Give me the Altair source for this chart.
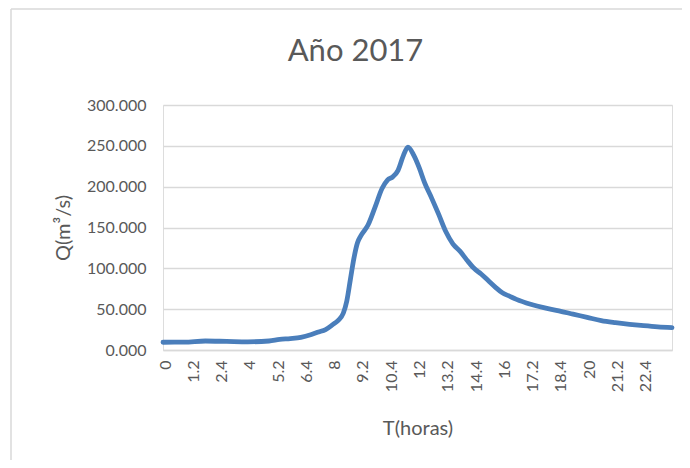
import altair as alt
import pandas as pd

# time in minutes since 0:00, flow in m3/s
t_min = [0, 60, 120, 180, 240, 300, 330, 360, 390, 420, 440, 460, 480, 495, 510, 520,
         530, 540, 550, 560, 580, 600, 620, 635, 650, 665, 680, 693, 710, 725, 740,
         760, 780, 800, 820, 840, 860, 880, 900, 920, 940, 960, 980, 1000, 1040, 1080,
         1120, 1160, 1200, 1240, 1280, 1320, 1360, 1400, 1440]
q = [9.5, 9.6, 11.0, 10.5, 10.0, 11.0, 13.0, 14.0, 15.5, 19.0, 22.0, 25.0, 31.0, 36.0, 45.0, 60.0,
     86.0, 112.0, 131.0, 140.0, 153.0, 175.0, 198.0, 208.0, 212.0, 220.0, 238.0, 248.5, 238.0, 223.0, 205.0,
     186.0, 166.0, 145.0, 130.0, 121.0, 110.0, 100.0, 93.0, 85.0, 77.0, 70.0, 66.0, 62.0, 56.0, 51.5,
     48.0, 44.0, 40.0, 36.0, 33.5, 31.5, 29.8, 28.4, 27.5]

x_tick_values = [0, 80, 160, 240, 320, 400, 480, 560, 640, 720, 800, 880, 960, 1040, 1120, 1200, 1280, 1360]
x_tick_labels = ["0", "1.2", "2.4", "4", "5.2", "6.4", "8", "9.2", "10.4", "12", "13.2", "14.4",
                 "16", "17.2", "18.4", "20", "21.2", "22.4"]
y_tick_values = [0, 50, 100, 150, 200, 250, 300]

df = pd.DataFrame({"t": t_min, "q": q})
label_expr = "[" + ",".join("'" + s + "'" for s in x_tick_labels) + "][round(datum.value / 80)]"

GRAY = "#595959"
W, H = 509, 245

line = alt.Chart(df).mark_line(
    color="#4A7EBB", strokeWidth=4.8, interpolate="monotone",
    strokeCap="round", strokeJoin="round"
).encode(
    x=alt.X("t:Q",
            scale=alt.Scale(domain=[0, 1440], nice=False, zero=False),
            axis=alt.Axis(values=x_tick_values, labelExpr=label_expr, labelAngle=270,
                          labelAlign="right", labelBaseline="middle", labelPadding=10,
                          labelOverlap=False, labelFlush=False, labelOffset=2,
                          ticks=False, grid=False, domainColor="#D9D9D9", domainWidth=1.5,
                          labelFontSize=16, labelColor=GRAY, labelFont="Lato",
                          title="T(horas)", titleFontSize=20, titleFont="Lato",
                          titleFontWeight="normal", titleColor=GRAY,
                          titleX=W / 2, titleY=78, titleAlign="center",
                          titleBaseline="middle")),
    y=alt.Y("q:Q",
            scale=alt.Scale(domain=[0, 300], nice=False),
            axis=alt.Axis(values=y_tick_values, format=".3f", domain=False, ticks=False,
                          labelPadding=17, labelFontSize=16, labelColor=GRAY, labelFont="Lato",
                          gridColor="#D9D9D9", gridWidth=1.5,
                          title="Q(m³/s)", titleFontSize=20, titleFont="Lato",
                          titleFontWeight="normal", titleColor=GRAY,
                          titleX=-100, titleY=H / 2, titleAngle=270, titleAlign="center",
                          titleBaseline="middle")),
)

frame_df = pd.DataFrame({"a": [0]})
left_border = alt.Chart(frame_df).mark_rule(color="#D9D9D9", strokeWidth=1.5).encode(
    x=alt.value(-152), y=alt.value(-96), y2=alt.value(360))
top_border = alt.Chart(frame_df).mark_rule(color="#D9D9D9", strokeWidth=1.5).encode(
    x=alt.value(-152), x2=alt.value(520), y=alt.value(-96))

chart = alt.layer(left_border, top_border, line).properties(
    width=W, height=H,
    title=alt.TitleParams("Año 2017", fontSize=31, font="Lato", fontWeight="normal",
                          color=GRAY, anchor="middle", frame="group", dx=-62, offset=-60),
    autosize=alt.AutoSizeParams(type="none"),
    padding={"left": 155, "top": 97, "right": 10, "bottom": 110},
).configure_view(stroke=None).configure(font="Lato")

chart.save("out.html", embed_options={"renderer": "svg", "actions": False})
